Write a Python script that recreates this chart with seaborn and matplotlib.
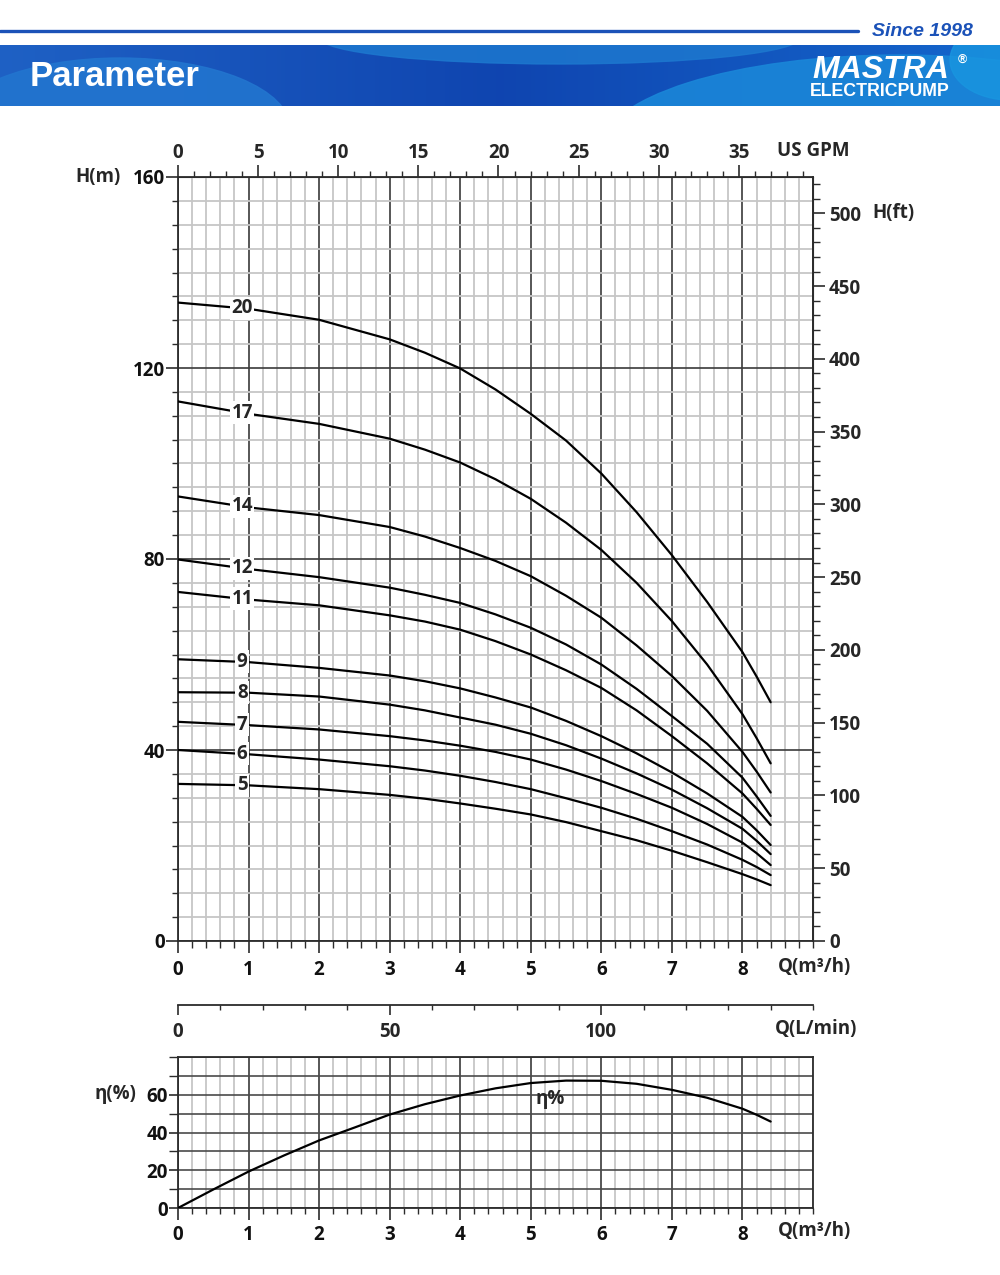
import numpy as np
import pandas as pd
import matplotlib
matplotlib.use("Agg")
import matplotlib.pyplot as plt
import seaborn as sns
from matplotlib.ticker import MultipleLocator, FixedLocator, FuncFormatter
from matplotlib.patches import Ellipse
from matplotlib.lines import Line2D

# ---------------- data ----------------
q_grid = [0, 1, 2, 3, 3.5, 4, 4.5, 5, 5.5, 6, 6.5, 7, 7.5, 8, 8.2, 8.4]

h_20 = [133.7, 132.4, 130.1, 126.0, 123.2, 119.9, 115.5, 110.4, 104.8, 97.9, 89.8, 80.8, 71.0, 60.5, 55.4, 50.0]
h_17 = [113.0, 110.4, 108.3, 105.2, 102.9, 100.2, 96.7, 92.6, 87.6, 81.9, 75.0, 67.0, 57.9, 47.5, 42.5, 37.2]
h_14 = [93.1, 90.8, 89.2, 86.7, 84.7, 82.3, 79.6, 76.4, 72.3, 67.7, 61.9, 55.5, 48.2, 39.6, 35.5, 31.1]
h_12 = [79.9, 77.9, 76.2, 74.0, 72.5, 70.8, 68.4, 65.6, 62.1, 57.9, 52.8, 47.1, 41.3, 34.2, 30.3, 26.2]
h_11 = [73.1, 71.5, 70.3, 68.2, 66.9, 65.2, 62.8, 60.0, 56.7, 53.0, 48.3, 42.9, 37.2, 30.9, 27.7, 24.3]
h_9 = [59.0, 58.4, 57.2, 55.6, 54.4, 52.9, 51.0, 48.9, 46.1, 42.9, 39.3, 35.3, 30.9, 26.0, 23.2, 20.1]
h_8 = [52.1, 52.0, 51.2, 49.5, 48.3, 46.8, 45.3, 43.4, 41.0, 38.2, 35.1, 31.7, 27.8, 23.5, 21.0, 18.2]
h_7 = [45.9, 45.2, 44.3, 42.9, 42.0, 40.9, 39.6, 38.0, 35.9, 33.5, 30.8, 27.9, 24.5, 20.6, 18.4, 15.9]
h_6 = [40.0, 39.1, 38.0, 36.6, 35.7, 34.6, 33.3, 31.8, 29.9, 27.9, 25.6, 23.0, 20.2, 17.0, 15.5, 13.8]
h_5 = [32.9, 32.6, 31.8, 30.6, 29.8, 28.8, 27.7, 26.5, 24.9, 23.0, 21.1, 18.9, 16.5, 14.0, 12.9, 11.7]

stage_labels = ["20", "17", "14", "12", "11", "9", "8", "7", "6", "5"]
stage_h = [h_20, h_17, h_14, h_12, h_11, h_9, h_8, h_7, h_6, h_5]

q_eff = [0, 0.5, 1, 1.5, 2, 2.5, 3, 3.5, 4, 4.5, 5, 5.5, 6, 6.5, 7, 7.5, 8, 8.2, 8.4]
eta = [0, 9.8, 19.3, 27.8, 35.8, 42.6, 49.5, 55.0, 59.6, 63.4, 66.2, 67.5, 67.4, 65.8, 62.6, 58.4, 52.6, 49.4, 45.8]

h_ticks_m = [0, 40, 80, 120, 160]
q_ticks = [0, 1, 2, 3, 4, 5, 6, 7, 8]
gpm_ticks = [0, 5, 10, 15, 20, 25, 30, 35]
ft_ticks = [0, 50, 100, 150, 200, 250, 300, 350, 400, 450, 500]
lmin_ticks = [0, 50, 100]
eta_ticks = [0, 20, 40, 60]
eta_minor = [10, 30, 50, 70, 80]

# ---------------- style ----------------
sns.set_style("ticks")
plt.rcParams['font.family'] = ['Open Sans', 'DejaVu Sans']
plt.rcParams['font.weight'] = 'bold'
plt.rcParams['axes.labelweight'] = 'bold'

W, H = 1000, 1275
fig = plt.figure(figsize=(10, 12.75), dpi=100)
fig.patch.set_facecolor('white')


def fx(x):
    return x / W


def fy(y):
    return 1 - y / H


DARK = '#2b2b2b'
GRID_MAJ = '#3a3a3a'
GRID_MIN = '#c6c6c6'
FS = 13.5
MAJ = 8.5
MIN = 4.0
SANS2 = ['Liberation Sans', 'DejaVu Sans']

# ---------------- header ----------------
fig.add_artist(Line2D([0, fx(858)], [fy(31), fy(31)], color='#1b52b8', lw=2.4))
fig.text(fx(973), fy(31), "Since 1998", ha='right', va='center', color='#1b52b8',
         fontsize=14, fontstyle='italic', fontweight='bold', family=SANS2)

axh = fig.add_axes([0, fy(106), 1, 61 / H])
axh.set_xlim(0, 1000)
axh.set_ylim(106, 45)
axh.axis('off')
grad = np.linspace(0, 1, 256)
c_left = np.array([0.12, 0.38, 0.77])
c_mid = np.array([0.06, 0.27, 0.69])
c_right = np.array([0.08, 0.40, 0.80])
img = np.zeros((2, 256, 3))
for i, t in enumerate(grad):
    if t < 0.5:
        c = c_left + (c_mid - c_left) * (t / 0.5)
    else:
        c = c_mid + (c_right - c_mid) * ((t - 0.5) / 0.5)
    img[:, i, :] = c
axh.imshow(img, extent=(0, 1000, 106, 45), aspect='auto', zorder=0)
axh.add_patch(Ellipse((560, 38), 480, 52, color='#1d78cf', alpha=0.85, zorder=1))
axh.add_patch(Ellipse((120, 128), 340, 140, color='#2275cf', alpha=0.9, zorder=1))
axh.add_patch(Ellipse((900, 150), 600, 190, color='#1a86d8', alpha=0.9, zorder=1))
axh.add_patch(Ellipse((1010, 60), 120, 80, color='#1896e0', alpha=0.8, zorder=1))
axh.text(30, 77, "Parameter", color='white', fontsize=25, fontweight='bold',
         ha='left', va='center', family=SANS2, zorder=3)
axh.text(881, 70, "MASTRA", color='white', fontsize=23, fontweight='bold', fontstyle='italic',
         ha='center', va='center', family=SANS2, zorder=3)
axh.text(962, 60, "®", color='white', fontsize=9, ha='center', va='center',
         family=SANS2, zorder=3)
axh.text(880, 91, "ELECTRICPUMP", color='white', fontsize=12.8, fontweight='bold',
         ha='center', va='center', family=SANS2, zorder=3)

# ---------------- main H-Q chart ----------------
ax = fig.add_axes([fx(178), fy(941), 635 / W, 764 / H])
frames = []
for lab, h in zip(stage_labels, stage_h):
    frames.append(pd.DataFrame({'Q': q_grid, 'H': h, 'stage': lab}))
df = pd.concat(frames, ignore_index=True)
sns.lineplot(data=df, x='Q', y='H', units='stage', estimator=None, color='black',
             linewidth=1.6, ax=ax, sort=False, legend=False, zorder=5)
ax.set_xlim(0, 9)
ax.set_ylim(0, 160)
ax.set_xlabel('')
ax.set_ylabel('')
ax.xaxis.set_major_locator(FixedLocator(q_ticks))
ax.xaxis.set_minor_locator(MultipleLocator(0.2))
ax.yaxis.set_major_locator(FixedLocator(h_ticks_m))
ax.yaxis.set_minor_locator(MultipleLocator(5))
ax.xaxis.set_major_formatter(FuncFormatter(lambda v, p: f'{v:.0f}'))
ax.yaxis.set_major_formatter(FuncFormatter(lambda v, p: f'{v:.0f}'))
ax.set_axisbelow(True)
ax.grid(which='minor', color=GRID_MIN, lw=1.3)
ax.grid(which='major', color=GRID_MAJ, lw=1.2)
ax.axvline(9, color=GRID_MAJ, lw=1.2)
ax.tick_params(which='both', bottom=True, left=True, top=False, right=False)
ax.tick_params(which='major', direction='out', length=MAJ, width=1.2, color=DARK,
               labelsize=FS, labelcolor='#111')
ax.tick_params(which='minor', direction='out', length=MIN, width=1.0, color=DARK)
ax.tick_params(axis='y', which='major', pad=0.8)
ax.tick_params(axis='x', which='major', pad=5.5)
ax.tick_params(axis='x', which='minor', length=4.8)
for s in ax.spines.values():
    s.set_color(DARK)
    s.set_linewidth(1.3)
    s.set_visible(True)

for lab, h in zip(stage_labels, stage_h):
    ax.text(0.91, np.interp(0.91, q_grid, h), lab, ha='center', va='center', fontsize=FS,
            fontweight='bold', zorder=6,
            bbox=dict(boxstyle='square,pad=0.08', fc='white', ec='none'))

gpm = ax.secondary_xaxis('top', functions=(lambda q: q * 4.40287, lambda g: g / 4.40287))
gpm.xaxis.set_major_locator(FixedLocator(gpm_ticks))
gpm.xaxis.set_minor_locator(MultipleLocator(1))
gpm.xaxis.set_major_formatter(FuncFormatter(lambda v, p: f'{v:.0f}'))
gpm.tick_params(which='both', top=True)
gpm.tick_params(which='major', direction='out', length=MAJ, width=1.2, color=DARK,
                labelsize=FS, pad=1.6)
gpm.tick_params(which='minor', direction='out', length=MIN, width=1.0, color=DARK)
gpm.spines['top'].set_color(DARK)

ft = ax.secondary_yaxis('right', functions=(lambda m: m * 3.28084, lambda f: f / 3.28084))
ft.yaxis.set_major_locator(FixedLocator(ft_ticks))
ft.yaxis.set_minor_locator(MultipleLocator(10))
ft.yaxis.set_major_formatter(FuncFormatter(lambda v, p: f'{v:.0f}'))
ft.tick_params(which='both', right=True)
ft.tick_params(which='major', direction='out', length=MAJ, width=1.2, color=DARK,
               labelsize=FS, pad=3)
ft.tick_params(which='minor', direction='out', length=4.8, width=1.0, color=DARK)
ft.spines['right'].set_color(DARK)

fig.text(fx(75), fy(177), "H(m)", ha='left', va='center', fontsize=FS, fontweight='bold')
fig.text(fx(777), fy(151), "US GPM", ha='left', va='center', fontsize=FS, fontweight='bold')
fig.text(fx(872), fy(213), "H(ft)", ha='left', va='center', fontsize=FS, fontweight='bold')
fig.text(fx(778), fy(967), "Q(m³/h)", ha='left', va='center', fontsize=FS, fontweight='bold')

# ---------------- L/min axis ----------------
axl = fig.add_axes([fx(178), fy(1005), 635 / W, 0.001])
axl.set_facecolor('none')
axl.set_xlim(0, 150)
axl.set_ylim(0, 1)
for k in ['left', 'right', 'top']:
    axl.spines[k].set_visible(False)
axl.spines['bottom'].set_color(DARK)
axl.spines['bottom'].set_linewidth(1.3)
axl.set_yticks([])
axl.xaxis.set_major_locator(FixedLocator(lmin_ticks))
axl.xaxis.set_minor_locator(MultipleLocator(10))
axl.xaxis.set_major_formatter(FuncFormatter(lambda v, p: f'{v:.0f}'))
axl.tick_params(which='both', bottom=True, top=False, left=False)
axl.tick_params(which='major', direction='out', length=7, width=1.2, color=DARK,
                labelsize=FS, pad=5.0)
axl.tick_params(which='minor', direction='out', length=3.8, width=1.0, color=DARK)
fig.text(fx(775), fy(1029), "Q(L/min)", ha='left', va='center', fontsize=FS, fontweight='bold')

# ---------------- efficiency chart ----------------
ax2 = fig.add_axes([fx(178), fy(1208), 635 / W, 151 / H])
eff_df = pd.DataFrame({'Q': q_eff, 'eta': eta})
sns.lineplot(data=eff_df, x='Q', y='eta', color='black', linewidth=1.6, ax=ax2,
             sort=False, legend=False, zorder=5)
ax2.set_xlim(0, 9)
ax2.set_ylim(0, 80)
ax2.set_xlabel('')
ax2.set_ylabel('')
ax2.xaxis.set_major_locator(FixedLocator(q_ticks))
ax2.xaxis.set_minor_locator(MultipleLocator(0.2))
ax2.xaxis.set_major_formatter(FuncFormatter(lambda v, p: f'{v:.0f}'))
ax2.yaxis.set_major_locator(FixedLocator(eta_ticks))
ax2.yaxis.set_minor_locator(FixedLocator(eta_minor))
ax2.yaxis.set_major_formatter(FuncFormatter(lambda v, p: f'{v:.0f}'))
ax2.set_axisbelow(True)
ax2.grid(axis='x', which='minor', color=GRID_MIN, lw=1.3)
ax2.grid(axis='x', which='major', color=GRID_MAJ, lw=1.2)
ax2.grid(axis='y', which='both', color='#4a4a4a', lw=1.2)
ax2.tick_params(which='both', bottom=True, left=True, top=False, right=False)
ax2.tick_params(which='major', direction='out', length=MAJ, width=1.2, color=DARK,
                labelsize=FS, labelcolor='#111')
ax2.tick_params(which='minor', direction='out', length=MIN, width=1.0, color=DARK)
ax2.tick_params(axis='y', which='major', length=6.5, pad=0.8)
ax2.tick_params(axis='y', which='minor', length=6.5)
ax2.tick_params(axis='x', which='major', pad=3.5)
for s in ax2.spines.values():
    s.set_color(DARK)
    s.set_linewidth(1.3)
    s.set_visible(True)
ax2.text(5.27, 57.5, "η%", ha='center', va='center', fontsize=FS, fontweight='bold')
fig.text(fx(95), fy(1094), "η(%)", ha='left', va='center', fontsize=FS, fontweight='bold')
fig.text(fx(778), fy(1231), "Q(m³/h)", ha='left', va='center', fontsize=FS, fontweight='bold')

fig.savefig("out.png", dpi=100, facecolor='white')
